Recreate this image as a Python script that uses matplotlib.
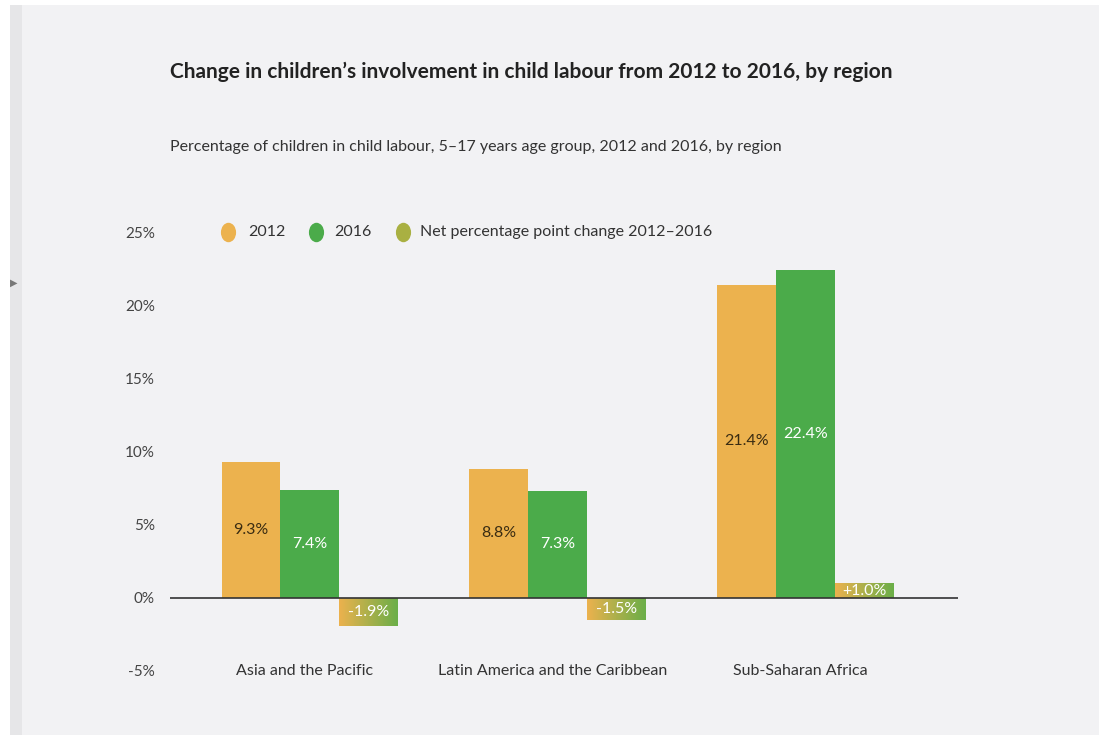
import numpy as np
import matplotlib.pyplot as plt
from matplotlib.lines import Line2D
from matplotlib.patches import Rectangle
from matplotlib.path import Path
from matplotlib.transforms import Affine2D
from matplotlib.colors import LinearSegmentedColormap

plt.rcParams['font.family'] = ['Lato', 'DejaVu Sans']

# data
regions = ["Asia and the Pacific", "Latin America and the Caribbean", "Sub-Saharan Africa"]
pct_2012 = [9.3, 8.8, 21.4]
pct_2016 = [7.4, 7.3, 22.4]
net_change = [-1.9, -1.5, 1.0]
yticks = [-5, 0, 5, 10, 15, 20, 25]

orange = "#ecb24e"
green = "#4bab4a"
bg = "#f2f2f4"

fig = plt.figure(figsize=(10.99, 7.44), dpi=100, facecolor="white")

# panel background + left strip (screenshot look)
fig.patches.append(Rectangle((22 / 1099, 9 / 744), 1 - 22 / 1099, 1 - 14 / 744,
                             transform=fig.transFigure, facecolor=bg, edgecolor="none", zorder=-2))
fig.patches.append(Rectangle((10 / 1099, 9 / 744), 12 / 1099, 1 - 14 / 744,
                             transform=fig.transFigure, facecolor="#e6e6e8", edgecolor="none", zorder=-2))
fig.text(14 / 1099, 1 - 283 / 744, "\u25B6", fontsize=7, color="#777777",
         family="DejaVu Sans", ha="center", va="center")

ax = fig.add_axes([170 / 1099, 1 - 671 / 744, 788 / 1099, 439 / 744])
ax.set_facecolor("none")

x = np.arange(len(regions))
w = 0.238

b1 = ax.bar(x - w, pct_2012, w, color=orange, zorder=2)
b2 = ax.bar(x, pct_2016, w, color=green, zorder=2)
b3 = ax.bar(x + w, net_change, w, color="none", zorder=2)

# gradient fill for the net change bars
grad = np.linspace(0, 1, 256).reshape(1, -1)
cmap = LinearSegmentedColormap.from_list("og", [orange, "#6aae48"])
for r in b3:
    x0, y0 = r.get_x(), r.get_y()
    im = ax.imshow(grad, cmap=cmap, aspect="auto", zorder=2,
                   extent=[x0, x0 + r.get_width(), y0, y0 + r.get_height()])
    im.set_clip_path(r)

ax.set_xlim(-0.565, 2.617)
ax.set_ylim(-5, 25)

ax.axhline(0, color="#333333", lw=1.2, zorder=3)

ax.bar_label(b1, labels=[f"{v}%" for v in pct_2012], label_type="center",
             color="#3a2c12", fontsize=11.5)
ax.bar_label(b2, labels=[f"{v}%" for v in pct_2016], label_type="center",
             color="white", fontsize=11.5)
ax.bar_label(b3, labels=[f"{v:+.1f}%" if v > 0 else f"{v}%" for v in net_change],
             label_type="center", color="white", fontsize=11.5)

for xi, name in zip(x, regions):
    ax.text(xi - 0.02, -5, name, ha="center", va="center", fontsize=11.5, color="#333333")

ax.set_yticks(yticks)
ax.set_yticklabels([f"{t}%" for t in yticks], fontsize=11, color="#444444")
ax.tick_params(axis="y", length=0, pad=11)
ax.set_xticks([])
for s in ax.spines.values():
    s.set_visible(False)

# legend drawn by hand, upright ellipse markers
ell = Path.unit_circle().transformed(Affine2D().scale(0.78, 1.0))
leg_y = 1 - 232 / 744
items = [(228, 248, orange, "2012"), (316, 334, green, "2016"),
         (403, 420, "#a9b042", "Net percentage point change 2012\u20132016")]
for mx, tx, c, lab in items:
    fig.add_artist(Line2D([mx / 1099], [leg_y], marker=ell, markersize=14,
                          markerfacecolor=c, markeredgecolor="none",
                          transform=fig.transFigure))
    fig.text(tx / 1099, leg_y, lab, fontsize=11.5, color="#333333", va="center")

fig.text(170 / 1099, 1 - 72 / 744,
         "Change in children\u2019s involvement in child labour from 2012 to 2016, by region",
         fontsize=15, fontweight="bold", color="#222222", va="center")
fig.text(170 / 1099, 1 - 147 / 744,
         "Percentage of children in child labour, 5\u201317 years age group, 2012 and 2016, by region",
         fontsize=11.5, color="#333333", va="center")

fig.savefig("out.png", dpi=100, facecolor=fig.get_facecolor())
